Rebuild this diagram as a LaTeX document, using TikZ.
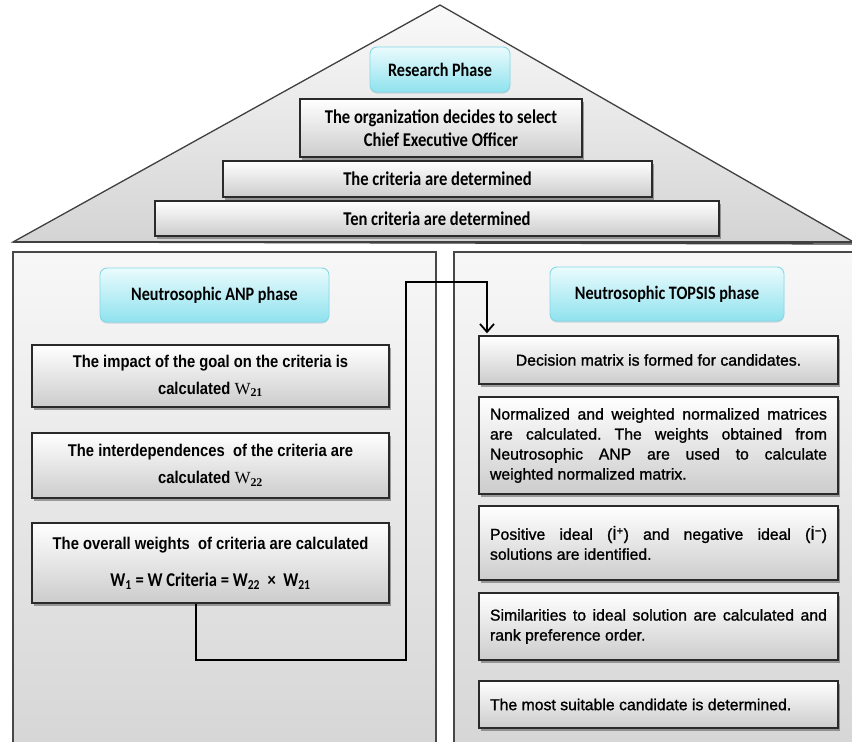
\documentclass[tikz,border=0pt]{standalone}
\usepackage{fontspec}
\setmainfont{Liberation Sans}
\newfontfamily\rfont{Liberation Sans}[FakeBold=1.2]
\newfontfamily\lfont{Liberation Sans}[FakeStretch=0.87]
\newfontfamily\cfont{Carlito}[FakeStretch=0.85]
\newfontfamily\tfont{Liberation Serif}
\usetikzlibrary{shadows,arrows.meta}
\definecolor{cyanTop}{HTML}{EAFBFD}
\definecolor{cyanBot}{HTML}{8FE2EE}
\definecolor{cyanEdge}{HTML}{86D9E7}
\definecolor{edge}{HTML}{2A2A2A}
\newcommand\topfnt{\cfont\bfseries\fontsize{19.5}{23}\selectfont}
\newcommand\ttlfnt{\cfont\bfseries\fontsize{19}{23}\selectfont}
\newcommand\leftfnt{\lfont\bfseries\fontsize{17}{27}\selectfont}
\newcommand\rightfnt{\rfont\fontsize{15.8}{20}\selectfont\frenchspacing}
\newcommand\Wsub[1]{{\tfont\mdseries W}{\tfont\textsubscript{#1}}}
\tikzset{
  procbox/.style={draw=edge, line width=1.4pt, top color=white, bottom color=black!20,
    drop shadow={shadow xshift=2pt, shadow yshift=-2.5pt, opacity=0.5, fill=black!70},
    inner sep=0pt, align=center},
  rbox/.style={procbox, minimum width=359pt, text width=337pt, inner xsep=11pt, align=justify, font=\rightfnt},
  lbox/.style={procbox, minimum width=357pt, font=\leftfnt},
  tbox/.style={procbox, font=\topfnt},
  titlebox/.style={draw=cyanEdge, line width=0.9pt, rounded corners=7pt,
    top color=cyanTop, bottom color=cyanBot, inner sep=0pt, align=center, font=\ttlfnt,
    drop shadow={shadow xshift=0pt, shadow yshift=-1.5pt, opacity=0.25, fill=cyan!60!black}},
  panel/.style={draw=black!72, line width=1.3pt, top color=black!3, bottom color=black!16},
  conn/.style={line width=1.8pt, black},
}
\begin{document}
\begin{tikzpicture}[x=1pt,y=-1pt]
\useasboundingbox (0,0) rectangle (852,742);
\fill[white] (0,0) rectangle (852,742);
% roof
\draw[draw=black!75, line width=1.3pt, top color=black!2, bottom color=black!17]
  (13,242) -- (440,5) -- (857,244) -- cycle;
\draw[line width=2.6pt, black!75] (13,242) -- (857,242);
% panels
\draw[panel] (13,252) rectangle (436,748);
\draw[panel] (454,252) rectangle (860,748);
% top boxes
\node[titlebox, minimum width=140pt, minimum height=45pt] (rp) at (440,69.5) {Research Phase};
\node[tbox, minimum width=282pt, minimum height=58pt] (org) at (441,128) {The organization decides to select\\ Chief Executive Officer};
\node[tbox, minimum width=429pt, minimum height=36pt] (crit) at (437.5,179) {The criteria are determined};
\node[tbox, minimum width=564pt, minimum height=35pt] (ten) at (437,218.5) {Ten criteria are determined};
% left panel
\node[titlebox, minimum width=229pt, minimum height=54pt] (anp) at (214.5,295) {Neutrosophic ANP phase};
\node[lbox, minimum height=62pt] (l1) at (210.5,376) {The impact of the goal on the criteria is\\ calculated \Wsub{21}};
\node[lbox, minimum height=65pt] (l2) at (210.5,465.5) {The interdependences\ \ of the criteria are\\ calculated \Wsub{22}};
\node[lbox, minimum height=80pt] (l3) at (210.5,563) {The overall weights\ \ of criteria are calculated\\[10pt]
  {\topfnt W\textsubscript{1} = W Criteria = W\textsubscript{22} ~×~ W\textsubscript{21}}};
% right panel
\node[titlebox, minimum width=234pt, minimum height=54pt] (top) at (667,294) {Neutrosophic TOPSIS phase};
\node[procbox, minimum width=359pt, minimum height=48pt, font=\rightfnt] (r1) at (658.5,360) {Decision matrix is formed for candidates.};
\node[rbox, minimum height=97pt] (r2) at (658.5,445.5) {Normalized and weighted normalized matrices\linebreak are calculated. The weights obtained from\linebreak Neutrosophic ANP are used to calculate\linebreak weighted normalized matrix.};
\node[rbox, minimum height=74pt] (r3) at (658.5,543) {Positive ideal (İ\textsuperscript{+}) and negative ideal (İ\textsuperscript{−})\linebreak solutions are identified.};
\node[rbox, minimum height=67pt] (r4) at (658.5,626.5) {Similarities to ideal solution are calculated and\linebreak rank preference order.};
\node[rbox, minimum height=47pt] (r5) at (658.5,704.5) {The most suitable candidate is determined.};
% connector
\coordinate (c0) at (196,0);
\coordinate (c1) at (406,660);
\coordinate (c2) at (406,282);
\coordinate (c3) at (487,282);
\draw[conn, -{Straight Barb[length=8pt,width=14pt,line width=1.8pt]}, shorten >=2pt]
  (l3.south -| c0) |- (c1) -- (c2) -- (c3) -- (r1.north -| c3);
\end{tikzpicture}
\end{document}
